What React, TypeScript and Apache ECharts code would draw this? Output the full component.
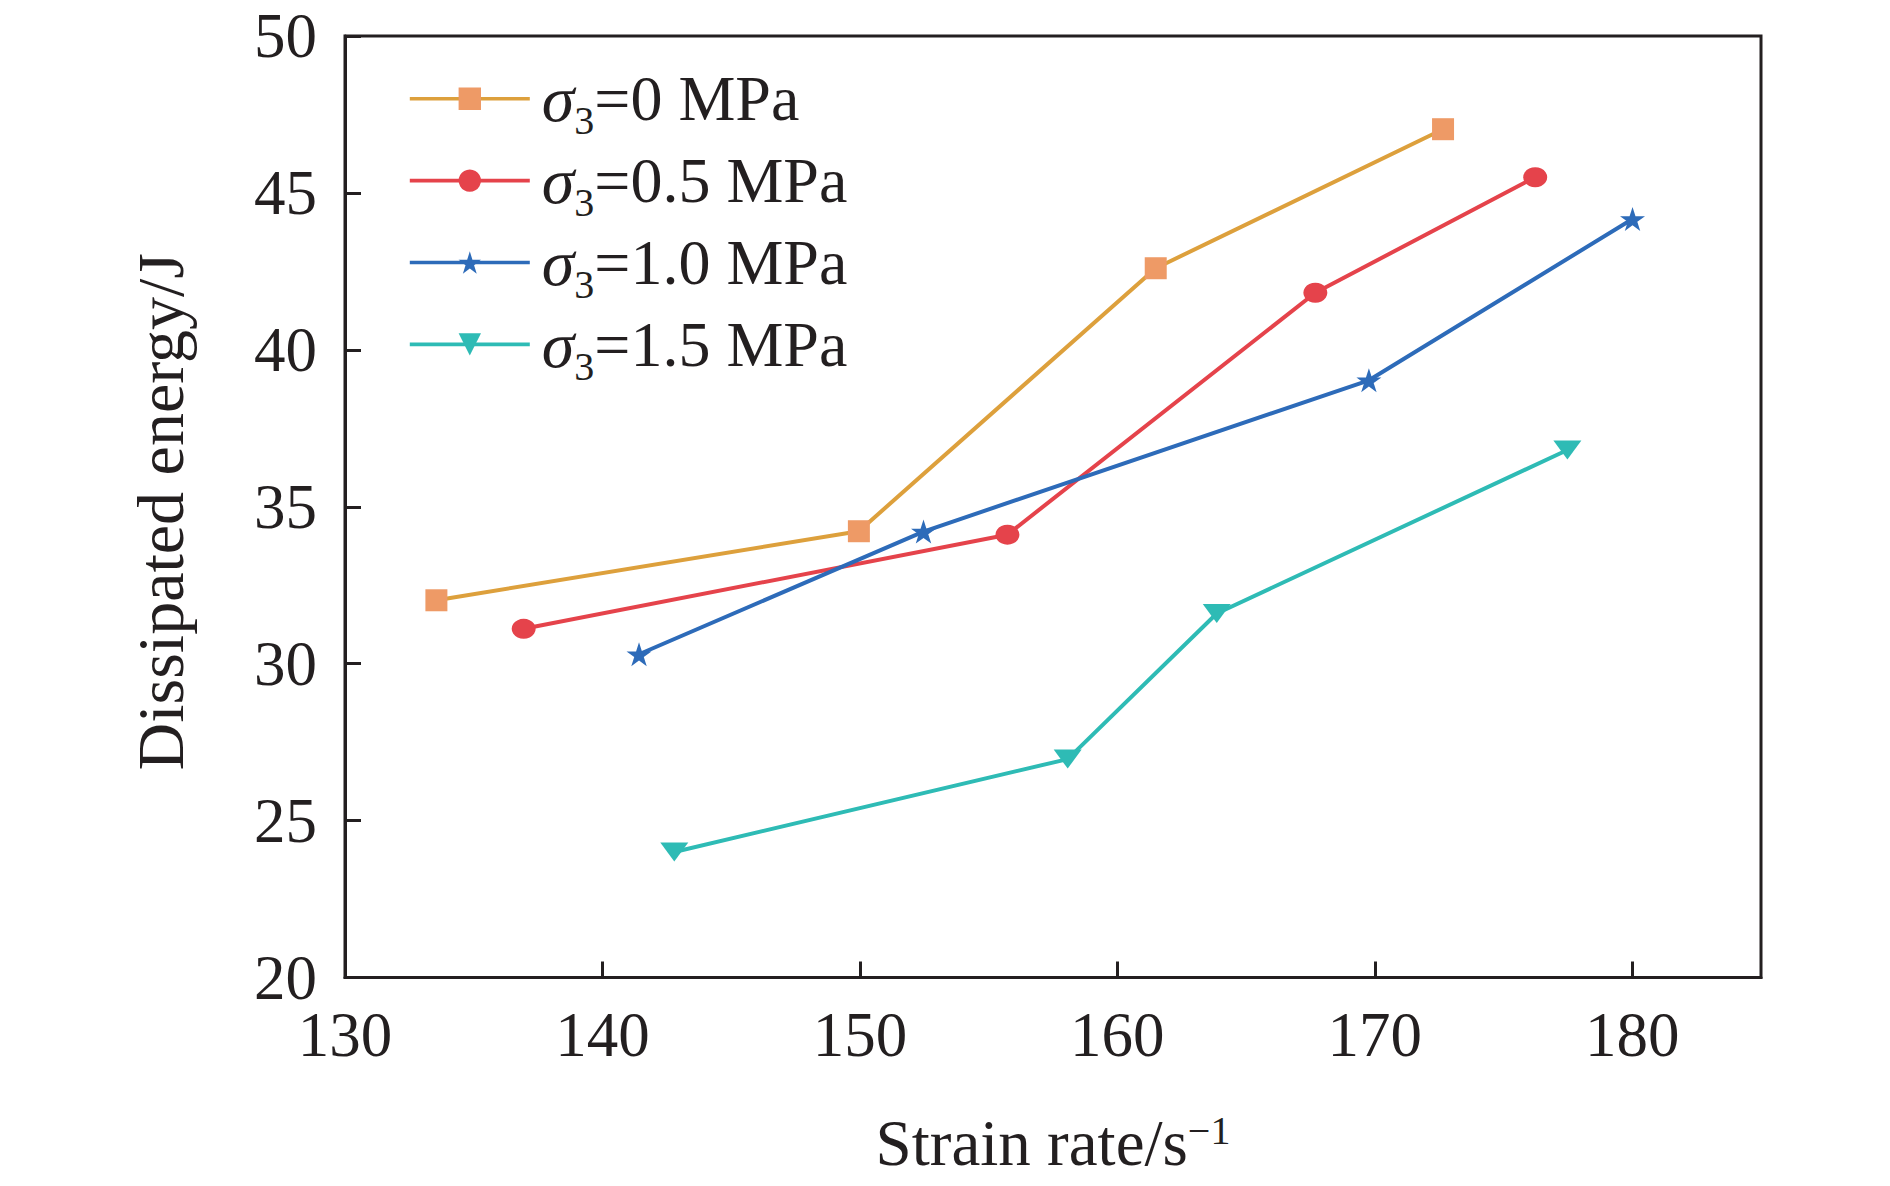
import React, { useEffect, useRef } from "react";
import * as echarts from "echarts";

const seriesNames = ["σ3=0 MPa", "σ3=0.5 MPa", "σ3=1.0 MPa", "σ3=1.5 MPa"];
const legendRich = [
  "{i|σ}{s|3}{n|=0 MPa}",
  "{i|σ}{s|3}{n|=0.5 MPa}",
  "{i|σ}{s|3}{n|=1.0 MPa}",
  "{i|σ}{s|3}{n|=1.5 MPa}",
];

const strain0 = [133.55, 149.96, 161.49, 172.65];
const energy0 = [32.02, 34.22, 42.6, 47.03];
const strain05 = [136.94, 155.73, 167.69, 176.23];
const energy05 = [31.11, 34.11, 41.82, 45.5];
const strain10 = [141.42, 152.47, 169.77, 180.01];
const energy10 = [30.3, 34.21, 39.03, 44.17];
const strain15 = [142.79, 158.07, 163.86, 177.48];
const energy15 = [24.0, 26.96, 31.6, 36.81];

const xTicks = [130, 140, 150, 160, 170, 180];
const yTicks = [20, 25, 30, 35, 40, 45, 50];

const lineColors = ["#DDA03C", "#E5434B", "#2D6BB9", "#2EBBB5"];
const markerColors = ["#EE9A66", "#E5434B", "#2D6BB9", "#2EBBB5"];

const STAR =
  "path://M50,0 L61.23,34.55 L97.55,34.55 L68.17,55.9 L79.39,90.45 L50,69.1 L20.61,90.45 L31.83,55.9 L2.45,34.55 L38.77,34.55 Z";
const TRI_DOWN = "path://M0,0 L100,0 L50,66 Z";

const FONT = "Liberation Serif";
const AXIS_COLOR = "#231F20";

function pairs(xs: number[], ys: number[]) {
  return xs.map((x, i) => [x, ys[i]]);
}

export default function App() {
  const ref = useRef<HTMLDivElement>(null);
  useEffect(() => {
    document.body.style.margin = "0";
    document.body.style.overflow = "hidden";
    if (!ref.current) return;
    const chart = echarts.init(ref.current, null, { renderer: "svg" });
    const data = [
      pairs(strain0, energy0),
      pairs(strain05, energy05),
      pairs(strain10, energy10),
      pairs(strain15, energy15),
    ];
    const symbols: any[] = ["rect", "circle", STAR, TRI_DOWN];
    const sizes: any[] = [22, [24, 20], [25, 24], [28, 19]];
    chart.setOption({
      animation: false,
      backgroundColor: "#ffffff",
      textStyle: { fontFamily: FONT, color: AXIS_COLOR },
      grid: {
        left: 345,
        right: 129,
        top: 36,
        bottom: 208.5,
        show: true,
        borderColor: AXIS_COLOR,
        borderWidth: 3,
        backgroundColor: "transparent",
      },
      legend: {
        orient: "vertical",
        left: 408,
        top: 65.7,
        padding: 0,
        itemWidth: 120,
        itemHeight: 28,
        itemGap: 6.9,
        data: seriesNames,
        lineStyle: { width: 3.6 },
        formatter: (name: string) => legendRich[seriesNames.indexOf(name)],
        textStyle: {
          fontFamily: FONT,
          color: AXIS_COLOR,
          rich: {
            i: { fontFamily: FONT, fontStyle: "italic", fontSize: 66, lineHeight: 84, padding: [0, 0, 0, 7], color: AXIS_COLOR },
            s: { fontFamily: FONT, fontSize: 40, verticalAlign: "bottom", color: AXIS_COLOR },
            n: { fontFamily: FONT, fontSize: 64, lineHeight: 84, color: AXIS_COLOR },
          },
        },
      },
      xAxis: {
        type: "value",
        min: 130,
        max: 185,
        interval: 10,
        name: "{a|Strain rate/s}{b|−1}",
        nameLocation: "middle",
        nameGap: 133,
        nameTextStyle: {
          rich: {
            a: { fontFamily: FONT, fontSize: 65, lineHeight: 65, color: AXIS_COLOR },
            b: { fontFamily: FONT, fontSize: 40, lineHeight: 36, verticalAlign: "top", color: AXIS_COLOR },
          },
        },
        axisLine: { show: true, lineStyle: { color: AXIS_COLOR, width: 3 } },
        axisTick: { show: true, inside: true, length: 16, lineStyle: { color: AXIS_COLOR, width: 3 }, customValues: xTicks },
        axisLabel: {
          fontFamily: FONT,
          fontSize: 63,
          lineHeight: 60,
          color: AXIS_COLOR,
          margin: 27,
          customValues: xTicks,
          formatter: (v: number) => String(v),
        },
        splitLine: { show: false },
      },
      yAxis: {
        type: "value",
        min: 20,
        max: 50,
        interval: 5,
        name: "Dissipated energy/J",
        nameLocation: "middle",
        nameGap: 152,
        nameTextStyle: { fontFamily: FONT, fontSize: 66, lineHeight: 66, color: AXIS_COLOR, padding: [0, 10, 0, 0] },
        axisLine: { show: true, lineStyle: { color: AXIS_COLOR, width: 3 } },
        axisTick: { show: true, inside: true, length: 16, lineStyle: { color: AXIS_COLOR, width: 3 }, customValues: yTicks },
        axisLabel: {
          fontFamily: FONT,
          fontSize: 63,
          lineHeight: 54,
          color: AXIS_COLOR,
          margin: 28,
          customValues: yTicks,
        },
        splitLine: { show: false },
      },
      series: seriesNames.map((name, i) => ({
        name,
        type: "line",
        data: data[i],
        symbol: symbols[i],
        symbolSize: sizes[i],
        showAllSymbol: true,
        lineStyle: { color: lineColors[i], width: 4 },
        itemStyle: { color: markerColors[i], borderWidth: 0 },
        emphasis: { disabled: true },
      })),
    });
    return () => chart.dispose();
  }, []);
  return <div ref={ref} style={{ width: 1890, height: 1186 }} />;
}
